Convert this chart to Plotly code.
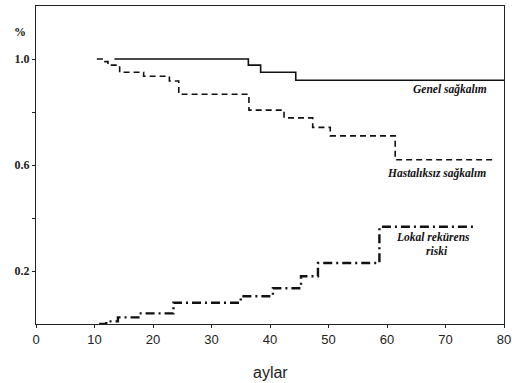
import plotly.graph_objects as go

# Genel sağkalım (overall survival)
genel_x = [13.4, 36.3, 38.4, 44.4, 80]
genel_y = [1.0, 0.977, 0.95, 0.92, 0.92]

# Hastalıksız sağkalım (disease-free survival)
hast_x = [10.4, 11.3, 12.3, 14.3, 18.4, 22.8, 24.4, 36.4, 42.4, 47.3, 50.3, 61.4, 78.4]
hast_y = [1.0, 0.99, 0.977, 0.95, 0.935, 0.917, 0.867, 0.807, 0.778, 0.742, 0.71, 0.62, 0.62]

# Lokal rekürens riski (local recurrence risk)
lokal_x = [10.8, 12.0, 14.0, 17.5, 23.5, 35.0, 40.5, 45.3, 48.2, 58.7, 74.8]
lokal_y = [0.0, 0.01, 0.025, 0.04, 0.08, 0.105, 0.135, 0.18, 0.23, 0.367, 0.367]

x_ticks = [0, 10, 20, 30, 40, 50, 60, 70, 80]
y_ticks = [0.2, 0.4, 0.6, 0.8, 1.0]
y_labels = ["<b>0.2</b>", "", "<b>0.6</b>", "", "<b>1.0</b>"]

fig = go.Figure()
fig.add_trace(go.Scatter(x=genel_x, y=genel_y, mode="lines", line_shape="hv",
                         line=dict(color="#111", width=1.6), showlegend=False))
fig.add_trace(go.Scatter(x=hast_x, y=hast_y, mode="lines", line_shape="hv",
                         line=dict(color="#111", width=1.6, dash="6px,4px"), showlegend=False))
fig.add_trace(go.Scatter(x=lokal_x, y=lokal_y, mode="lines", line_shape="hv",
                         line=dict(color="#111", width=2.4, dash="9px,4px,2px,4px"), showlegend=False))

ann_font = dict(family="Liberation Serif", size=11.5, color="#111")
fig.add_annotation(x=70.7, y=0.885, text="<b><i>Genel sağkalım</i></b>", showarrow=False, font=ann_font)
fig.add_annotation(x=68.4, y=0.60, text="<b><i>Hastalıksız sağkalım</i></b>", showarrow=False, font=ann_font, yanchor="top")
fig.add_annotation(x=67.8, y=0.33, text="<b><i>Lokal rekürens</i></b>", showarrow=False, font=ann_font)
fig.add_annotation(x=68.5, y=0.277, text="<b><i>riski</i></b>", showarrow=False, font=ann_font)
fig.add_annotation(x=20, y=32, xref="paper", yref="paper", text="<b>%</b>", showarrow=False,
                   xanchor="center", yanchor="middle",
                   font=dict(family="Liberation Serif", size=12, color="#111"))
fig.add_annotation(x=270, y=372, xref="paper", yref="paper", text="aylar", showarrow=False,
                   xanchor="center", yanchor="middle",
                   font=dict(family="Liberation Sans", size=16, color="#222"))

# convert pixel positions for paper-referenced annotations
L, R, T, B = 36, 8, 6, 59
pw, ph = 512 - L - R, 383 - T - B
for a in fig.layout.annotations:
    if a.xref == "paper":
        a.x = (a.x - L) / pw
        a.y = 1 - (a.y - T) / ph

fig.update_layout(
    width=512, height=383,
    margin=dict(l=L, r=R, t=T, b=B, autoexpand=False),
    plot_bgcolor="white", paper_bgcolor="white",
    xaxis=dict(range=[0, 80], tickvals=x_ticks, showgrid=False, zeroline=False, automargin=False,
               showline=True, linecolor="#222", linewidth=1, mirror=True,
               ticks="outside", ticklen=3, tickcolor="#222", ticklabeloverflow="allow",
               tickfont=dict(family="Liberation Sans", size=13, color="#222")),
    yaxis=dict(range=[0, 1.2], tickvals=y_ticks, ticktext=y_labels, showgrid=False, zeroline=False,
               automargin=False,
               showline=True, linecolor="#222", linewidth=1, mirror=True,
               ticks="outside", ticklen=3, tickcolor="#222",
               tickfont=dict(family="Liberation Serif", size=12, color="#222")),
)

fig.write_html("out.html", config={"displayModeBar": False},
               post_script="document.body.style.margin='0';document.body.style.padding='0';document.body.style.overflow='hidden';")
